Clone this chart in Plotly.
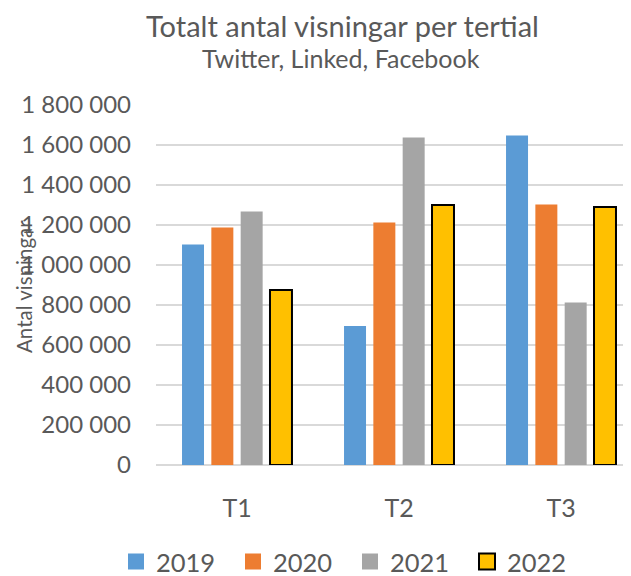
import plotly.graph_objects as go

categories = ["T1", "T2", "T3"]
years = ["2019", "2020", "2021", "2022"]
views_2019 = [1103000, 695000, 1647000]
views_2020 = [1187000, 1212000, 1303000]
views_2021 = [1267000, 1637000, 813000]
views_2022 = [875000, 1300000, 1290000]
series = [views_2019, views_2020, views_2021, views_2022]

colors = ["#5B9BD5", "#ED7D31", "#A5A5A5", "#FFC000"]
font = "Lato, 'Open Sans', sans-serif"
grey = "#595959"

# the page body has an 8px margin, so the figure is laid out 8px up/left
OFF = 8
W, H = 631 - OFF, 576 - OFF
left, top, bottom = 156 - OFF, 105 - OFF, 576 - 465
plot_w, plot_h = W - left, H - top - bottom


def px_x(x):
    return (x - OFF - left) / plot_w


def px_y(y):
    return (H - bottom - (y - OFF)) / plot_h


fig = go.Figure()
for year, vals, col in zip(years, series, colors):
    outline = dict(color="#000000", width=2) if year == "2022" else dict(width=0)
    fig.add_trace(go.Bar(x=categories, y=vals, name=year, showlegend=False,
                         marker=dict(color=col, line=outline)))
# legend proxies, so the legend squares can be bigger than the bar default
for year, col in zip(years, colors):
    outline = dict(color="#000000", width=2) if year == "2022" else dict(width=0)
    fig.add_trace(go.Scatter(x=[None], y=[None], mode="markers", name=year,
                             marker=dict(symbol="square", size=16, color=col, line=outline)))

fig.update_layout(
    width=W, height=H,
    margin=dict(l=left, r=0, t=top, b=bottom, autoexpand=False),
    paper_bgcolor="white", plot_bgcolor="white",
    font=dict(family=font, color=grey),
    separators=", ",
    barmode="group", bargap=0.276, bargroupgap=0.25,
    showlegend=True,
    legend=dict(
        orientation="h", xref="container",
        x=(350 - OFF) / W, xanchor="center", y=px_y(562), yanchor="middle",
        font=dict(size=25.5, color=grey), traceorder="normal", itemsizing="trace",
        entrywidth=72, entrywidthmode="pixels",
    ),
    xaxis=dict(
        type="category", range=[-0.5, 2.432], showgrid=False, zeroline=False,
        showline=False, tickfont=dict(size=25, color=grey), ticklabelstandoff=26,
    ),
    yaxis=dict(
        range=[0, 1800000], dtick=200000, tickformat=",d",
        gridcolor="#D9D9D9", gridwidth=1.5, zeroline=True, zerolinecolor="#D9D9D9",
        zerolinewidth=1.5, showline=False, tickfont=dict(size=24, color=grey),
        ticklabelstandoff=24,
    ),
    annotations=[
        dict(text="Totalt antal visningar per tertial", xref="paper", yref="paper",
             x=px_x(342), y=px_y(26), showarrow=False, font=dict(size=29, color=grey),
             xanchor="center", yanchor="middle", borderpad=0),
        dict(text="Twitter, Linked, Facebook", xref="paper", yref="paper",
             x=px_x(341), y=px_y(58), showarrow=False, font=dict(size=25, color=grey),
             xanchor="center", yanchor="middle", borderpad=0),
        dict(text="Antal visningar", xref="paper", yref="paper", textangle=-90,
             x=px_x(24), y=px_y(287), showarrow=False, font=dict(size=20.5, color=grey),
             xanchor="center", yanchor="middle"),
    ],
)

fig.write_html("out.html")
